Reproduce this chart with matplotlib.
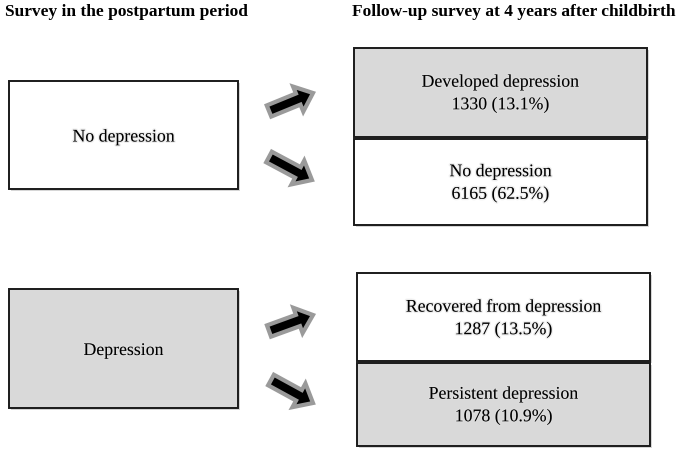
import matplotlib
matplotlib.use("Agg")
import matplotlib.pyplot as plt
from matplotlib.patches import Rectangle, FancyArrow
import matplotlib.patheffects as pe

# survey groups
headers = ["Survey in the postpartum period", "Follow-up survey at 4 years after childbirth"]
baseline = ["No depression", "Depression"]
followup = ["Developed depression", "No depression", "Recovered from depression", "Persistent depression"]
counts = [1330, 6165, 1287, 1078]
percents = [13.1, 62.5, 13.5, 10.9]

GRAY = "#d9d9d9"

fig = plt.figure(figsize=(6.85, 4.55), dpi=100)
ax = fig.add_axes([0, 0, 1, 1])
ax.set_xlim(0, 685)
ax.set_ylim(455, 0)
ax.axis("off")

shadow = [pe.SimplePatchShadow(offset=(1.5, -1.5), shadow_rgbFace="#bbbbbb", alpha=0.6), pe.Normal()]
txt_fx = [pe.withStroke(linewidth=2, foreground="#e0e0e0", alpha=0.5)]


def box(x0, y0, x1, y1, fill):
    r = Rectangle((x0, y0), x1 - x0, y1 - y0, facecolor=fill, edgecolor="#1a1a1a", lw=1.4)
    r.set_path_effects(shadow)
    ax.add_patch(r)


def arrow(x0, y0, x1, y1):
    a = FancyArrow(x0, y0, x1 - x0, y1 - y0, width=12, head_width=27, head_length=16,
                   length_includes_head=True, facecolor="black", edgecolor="#9a9a9a", lw=3)
    ax.add_patch(a)


# headers
ax.text(5, 12, headers[0], fontsize=12.5, fontweight="bold", family="Liberation Serif", va="center")
ax.text(352, 12, headers[1], fontsize=12.5, fontweight="bold", family="Liberation Serif", va="center")

# baseline boxes
left_boxes = [(9, 81, 238, 189), (9, 289, 238, 408)]
for (x0, y0, x1, y1), lab, fill in zip(left_boxes, baseline, ["white", GRAY]):
    box(x0, y0, x1, y1, fill)
    ax.text((x0 + x1) / 2, (y0 + y1) / 2 + 2, lab, fontsize=12.8, family="Liberation Serif",
            ha="center", va="center", path_effects=txt_fx)

# follow-up boxes
right_boxes = [(354, 48, 647, 137), (354, 139, 647, 225), (357, 273, 650, 361), (357, 363, 650, 446)]
fills = [GRAY, "white", "white", GRAY]
for (x0, y0, x1, y1), lab, n, p, fill in zip(right_boxes, followup, counts, percents, fills):
    box(x0, y0, x1, y1, fill)
    ax.text((x0 + x1) / 2, (y0 + y1) / 2 + 1, f"{lab}\n{n} ({p}%)", fontsize=12.8,
            family="Liberation Serif", ha="center", va="center", linespacing=1.4,
            path_effects=txt_fx)

# arrows
arrow(269, 111, 313, 93)
arrow(269, 157, 312, 180)
arrow(269, 331, 313, 315)
arrow(271, 380, 313, 403)

fig.savefig("out.png", dpi=100)
